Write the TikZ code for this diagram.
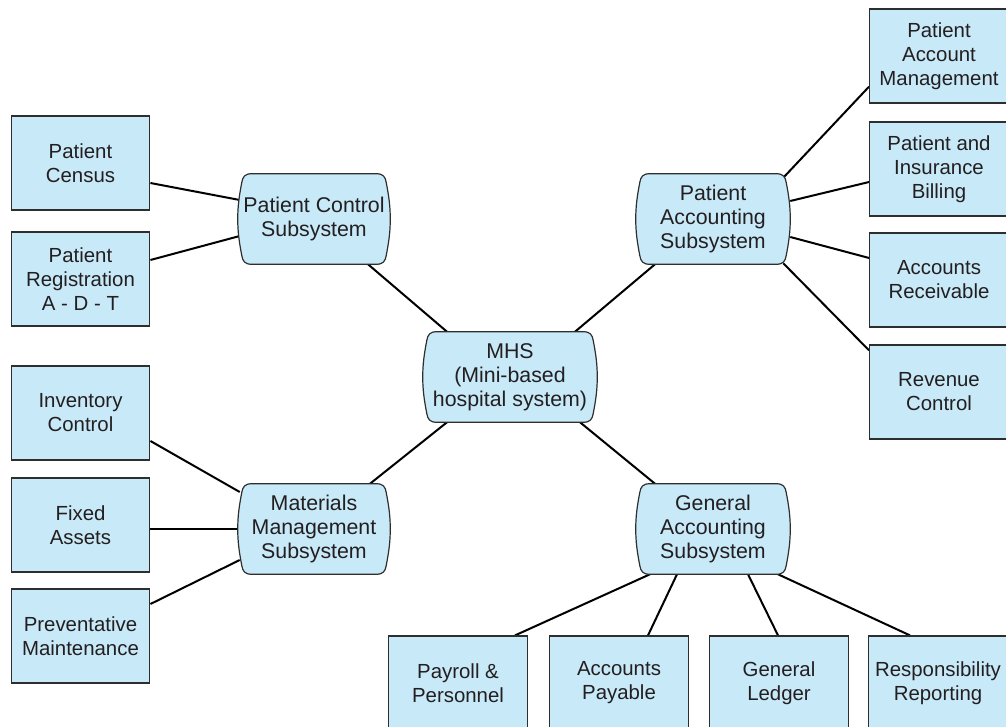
\documentclass[tikz,border=0pt]{standalone}
\usepackage{fontspec}
\setmainfont{Liberation Sans}
\usetikzlibrary{backgrounds}
\definecolor{boxfill}{HTML}{C8E9F8}
\definecolor{edge}{HTML}{2E2E2E}
\definecolor{txt}{HTML}{231F20}
\begin{document}
\begin{tikzpicture}[x=0.75pt,y=-0.75pt,
  every node/.style={font=\fontsize{15.3}{18}\selectfont, text=txt, align=center, inner sep=0pt},
  box/.style={draw=edge, fill=boxfill, line width=0.9pt, minimum width=104pt, minimum height=70.5pt},
  sub/.style={minimum height=67.5pt, font=\fontsize{16}{18}\selectfont},
  barrel/.style={draw=edge, fill=boxfill, line width=0.9pt},
  conn/.style={draw=black, line width=1.5pt}]
\useasboundingbox (0,0) rectangle (1006,727);

% left boxes
\node[box] (census) at (80.5,163) {Patient\\Census};
\node[box] (reg) at (80.5,279) {Patient\\Registration\\A - D - T};
\node[box] (inv) at (80.5,413) {Inventory\\Control};
\node[box] (fixed) at (80.5,525) {Fixed\\Assets};
\node[box] (prev) at (80.5,636) {Preventative\\Maintenance};
% right boxes
\node[box] (pam) at (939,56) {Patient\\Account\\Management};
\node[box] (pib) at (939,169) {Patient and\\Insurance\\Billing};
\node[box] (ar) at (939,280) {Accounts\\Receivable};
\node[box] (rc) at (939,392) {Revenue\\Control};
% bottom boxes
\node[box] (pay) at (458,683) {Payroll \&\\Personnel};
\node[box] (ap) at (619,683) {Accounts\\Payable};
\node[box] (gl) at (779,683) {General\\Ledger};
\node[box] (rr) at (938,683) {Responsibility\\Reporting};
% subsystems
\node[sub, minimum width=114pt] (pcs) at (314,219) {Patient Control\\Subsystem};
\node[sub, minimum width=114pt] (mms) at (314,529) {Materials\\Management\\Subsystem};
\node[sub, minimum width=130.5pt] (mhs) at (510,377) {MHS\\(Mini-based\\hospital system)};
\node[sub, minimum width=115.5pt] (pas) at (713,219) {Patient\\Accounting\\Subsystem};
\node[sub, minimum width=115.5pt] (gas) at (713,529) {General\\Accounting\\Subsystem};

\begin{scope}[on background layer]
\draw[conn] ([shift={(0,20)}]census.east) -- ([shift={(2,-19)}]pcs.west);
\draw[conn] ([shift={(0,-19)}]reg.east) -- ([shift={(2,17)}]pcs.west);
\draw[conn] ([shift={(54,0)}]pcs.south) -- ([shift={(-63,0)}]mhs.north);
\draw[conn] ([shift={(65,0)}]mhs.north) -- ([shift={(-58,0)}]pas.south);
\draw[conn] ([shift={(-63,0)}]mhs.south) -- ([shift={(56,0)}]mms.north);
\draw[conn] ([shift={(70,0)}]mhs.south) -- ([shift={(-58,0)}]gas.north);
\draw[conn] ([shift={(0,28)}]inv.east) -- ([shift={(2,-37)}]mms.west);
\draw[conn] ([shift={(0,4)}]fixed.east) -- ([shift={(0,0)}]mms.west);
\draw[conn] ([shift={(0,-32)}]prev.east) -- ([shift={(2,31)}]mms.west);
\draw[conn] ([shift={(-7,4)}]pas.north east) -- ([shift={(0,-17)}]pam.south west);
\draw[conn] ([shift={(0,-18)}]pas.east) -- ([shift={(0,13)}]pib.west);
\draw[conn] ([shift={(0,18)}]pas.east) -- ([shift={(0,-22)}]ar.west);
\draw[conn] ([shift={(-7,-1)}]pas.south east) -- ([shift={(0,6)}]rc.north west);
\draw[conn] ([shift={(-63,0)}]gas.south) -- ([shift={(57,0)}]pay.north);
\draw[conn] ([shift={(-36,0)}]gas.south) -- ([shift={(29,0)}]ap.north);
\draw[conn] ([shift={(35,0)}]gas.south) -- ([shift={(-1,0)}]gl.north);
\draw[conn] ([shift={(65,0)}]gas.south) -- ([shift={(-28,0)}]rr.north);
\foreach \n in {pcs,mms,mhs,pas,gas}{
  \path[barrel]
    ([shift={(14,0)}]\n.north west) -- ([shift={(-14,0)}]\n.north east)
    .. controls ([shift={(-7,0)}]\n.north east) and ([shift={(-5,3)}]\n.north east) .. ([shift={(-4,9)}]\n.north east)
    .. controls ([shift={(-1.5,22)}]\n.north east) and ([shift={(0,-13)}]\n.east) .. (\n.east)
    .. controls ([shift={(0,13)}]\n.east) and ([shift={(-1.5,-22)}]\n.south east) .. ([shift={(-4,-9)}]\n.south east)
    .. controls ([shift={(-5,-3)}]\n.south east) and ([shift={(-7,0)}]\n.south east) .. ([shift={(-14,0)}]\n.south east)
    -- ([shift={(14,0)}]\n.south west)
    .. controls ([shift={(7,0)}]\n.south west) and ([shift={(5,-3)}]\n.south west) .. ([shift={(4,-9)}]\n.south west)
    .. controls ([shift={(1.5,-22)}]\n.south west) and ([shift={(0,13)}]\n.west) .. (\n.west)
    .. controls ([shift={(0,-13)}]\n.west) and ([shift={(1.5,22)}]\n.north west) .. ([shift={(4,9)}]\n.north west)
    .. controls ([shift={(5,3)}]\n.north west) and ([shift={(7,0)}]\n.north west) .. ([shift={(14,0)}]\n.north west) -- cycle;
}
\end{scope}
\end{tikzpicture}
\end{document}
